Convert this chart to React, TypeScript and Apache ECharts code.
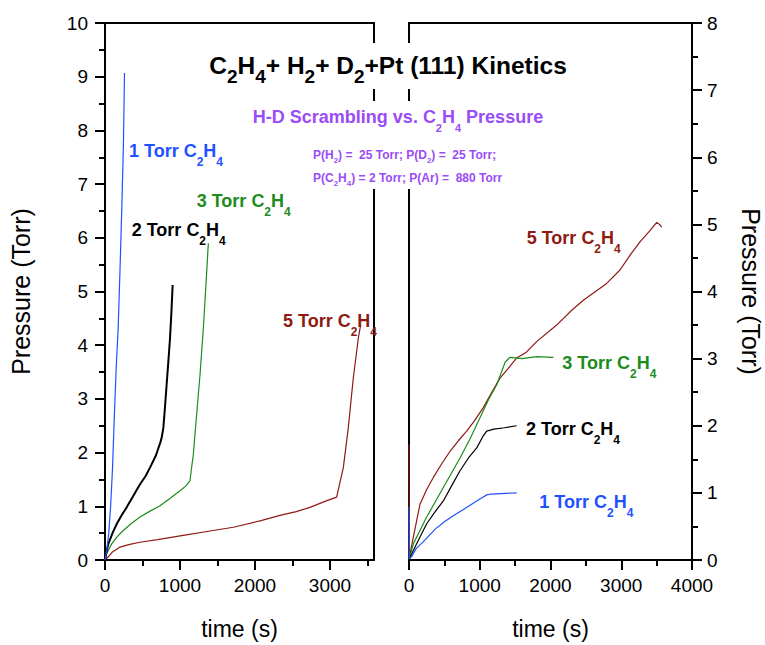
import React, { useEffect, useRef } from 'react';
import * as echarts from 'echarts';

const FONT = "'Liberation Sans', Arial, Helvetica, sans-serif";

// Axis ranges and tick positions
const leftXMax = 3587;
const leftXMajor = [0, 1000, 2000, 3000];
const leftXMinor = [500, 1500, 2500, 3500];
const rightXMax = 4000;
const leftYMax = 10;
const rightYMax = 8;

const BLUE = '#1f52ff';
const BLACK = '#000000';
const GREEN = '#1c8c1c';
const BROWN = '#8e1a12';
const PURPLE = '#9a4cf5';

type Pt = [number, number];

// Left panel: total pressure drop, time (s) vs Pressure (Torr)
const left1Torr: Pt[] = [
  [0, 0], [25, 0.2], [50, 0.5], [75, 1.0], [100, 1.7], [125, 2.7], [150, 3.6],
  [175, 4.3], [200, 5.4], [225, 6.6], [245, 7.7], [260, 9.07],
];
const left2Torr: Pt[] = [
  [0, 0], [20, 0.15], [44, 0.3], [100, 0.5], [156, 0.67], [220, 0.83], [289, 0.98],
  [380, 1.2], [467, 1.41], [540, 1.56], [600, 1.72], [680, 1.95], [740, 2.2],
  [756, 2.28], [778, 2.46], [800, 2.85], [822, 3.27], [845, 3.7], [867, 4.13],
  [885, 4.6], [902, 5.12],
];
const left3Torr: Pt[] = [
  [0, 0], [22, 0.12], [89, 0.3], [160, 0.43], [244, 0.55], [350, 0.68], [467, 0.8],
  [600, 0.91], [733, 1.01], [870, 1.15], [1000, 1.29], [1080, 1.38], [1133, 1.48],
  [1178, 1.97], [1222, 2.71], [1267, 3.45], [1311, 4.31], [1345, 5.1], [1378, 5.9],
];
const left5Torr: Pt[] = [
  [0, 0], [44, 0.06], [100, 0.15], [200, 0.24], [330, 0.29], [467, 0.33], [700, 0.38],
  [1044, 0.46], [1400, 0.54], [1711, 0.61], [2067, 0.73], [2333, 0.83], [2550, 0.9],
  [2733, 0.98], [2950, 1.1], [3089, 1.17], [3178, 1.72], [3244, 2.46], [3311, 3.39],
  [3378, 4.13], [3409, 4.38],
];

// Right panel: H-D exchange product pressure, time (s) vs Pressure (Torr)
const right1Torr: Pt[] = [
  [0, 0.79], [2, 0.02], [38, 0.05], [100, 0.17], [200, 0.27], [370, 0.46], [500, 0.57],
  [626, 0.66], [780, 0.76], [957, 0.88], [1050, 0.94], [1100, 0.97], [1145, 0.98],
  [1300, 0.99], [1522, 1.0],
];
const right2Torr: Pt[] = [
  [0, 0], [61, 0.14], [150, 0.33], [250, 0.54], [370, 0.72], [485, 0.88], [600, 1.1],
  [721, 1.33], [840, 1.52], [957, 1.67], [1050, 1.85], [1098, 1.92], [1200, 1.95],
  [1350, 1.97], [1522, 2.0],
];
const right3Torr: Pt[] = [
  [0, 0], [61, 0.24], [250, 0.64], [485, 1.08], [721, 1.52], [860, 1.8], [1003, 2.12],
  [1120, 2.38], [1240, 2.61], [1300, 2.78], [1360, 2.95], [1428, 3.02], [1600, 3.0],
  [1800, 3.03], [2040, 3.02],
];
const right5Torr: Pt[] = [
  [0, 1.72], [3, 0.03], [61, 0.34], [155, 0.83], [250, 1.05], [344, 1.23], [460, 1.43],
  [580, 1.62], [700, 1.78], [815, 1.92], [930, 2.08], [1050, 2.27], [1170, 2.5],
  [1286, 2.71], [1400, 2.85], [1522, 3.01], [1663, 3.1], [1800, 3.25], [2087, 3.5],
  [2300, 3.72], [2464, 3.87], [2794, 4.12], [2982, 4.32], [3130, 4.55], [3265, 4.74],
  [3400, 4.9], [3501, 5.03], [3540, 5.0], [3572, 4.96],
];

const axisLineStyle = { color: '#000', width: 2 };
const plain = (v: number) => String(v);
const tickLabel = { fontSize: 19, fontFamily: FONT, color: '#000', formatter: plain };
const axisName = { fontSize: 23, fontFamily: FONT, color: '#000' };

function lineSeries(data: Pt[], color: string, xi: number, yi: number, width = 1.2) {
  return {
    type: 'line',
    data,
    xAxisIndex: xi,
    yAxisIndex: yi,
    symbol: 'none',
    showSymbol: false,
    lineStyle: { color, width },
    itemStyle: { color },
    z: 3,
  };
}

function richStyle(color: string, main: number, sub: number, pad: number) {
  return {
    m: { fontSize: main, fontWeight: 'bold', fontFamily: FONT, fill: color },
    s: { fontSize: sub, fontWeight: 'bold', fontFamily: FONT, fill: color, padding: [pad, 0, 0, 0] },
  };
}

// "n Torr C2H4" curve label with subscripts
function torrLabel(n: string, x: number, y: number, color: string) {
  return {
    type: 'text',
    x,
    y,
    z: 100,
    style: {
      text: `{m|${n} Torr C}{s|2}{m|H}{s|4}`,
      align: 'left',
      verticalAlign: 'middle',
      rich: richStyle(color, 18, 12, 22),
    },
  };
}

export default function App() {
  const ref = useRef<HTMLDivElement>(null);

  useEffect(() => {
    if (!ref.current) return;
    const chart = echarts.init(ref.current, undefined, { renderer: 'svg' });

    const option = {
      animation: false,
      backgroundColor: '#fff',
      textStyle: { fontFamily: FONT },
      grid: [
        { left: 105, top: 23, width: 269, height: 540, show: true, borderColor: '#000', borderWidth: 2, backgroundColor: 'transparent' },
        { left: 409, top: 23, width: 283, height: 540, show: true, borderColor: '#000', borderWidth: 2, backgroundColor: 'transparent' },
      ],
      xAxis: [
        {
          type: 'value', gridIndex: 0, position: 'bottom', min: 0, max: leftXMax,
          name: 'time (s)', nameLocation: 'middle', nameGap: 57, nameTextStyle: axisName,
          axisLine: { show: true, onZero: false, lineStyle: axisLineStyle },
          axisTick: { show: true, length: 10, lineStyle: axisLineStyle, customValues: leftXMajor },
          axisLabel: { ...tickLabel, margin: 16, customValues: leftXMajor },
          splitLine: { show: false },
        },
        {
          type: 'value', gridIndex: 0, position: 'bottom', min: 0, max: leftXMax,
          axisLine: { show: false, onZero: false },
          axisTick: { show: true, length: 6, lineStyle: axisLineStyle, customValues: leftXMinor },
          axisLabel: { show: false },
          splitLine: { show: false },
        },
        {
          type: 'value', gridIndex: 1, position: 'bottom', min: 0, max: rightXMax, interval: 1000,
          name: 'time (s)', nameLocation: 'middle', nameGap: 57, nameTextStyle: axisName,
          axisLine: { show: true, onZero: false, lineStyle: axisLineStyle },
          axisTick: { show: true, length: 10, lineStyle: axisLineStyle },
          minorTick: { show: true, splitNumber: 2, length: 6, lineStyle: axisLineStyle },
          axisLabel: { ...tickLabel, margin: 16 },
          splitLine: { show: false },
        },
      ],
      yAxis: [
        {
          type: 'value', gridIndex: 0, position: 'left', min: 0, max: leftYMax, interval: 1,
          name: 'Pressure (Torr)', nameLocation: 'middle', nameGap: 72,
          nameTextStyle: { ...axisName, fontSize: 25 },
          axisLine: { show: true, onZero: false, lineStyle: axisLineStyle },
          axisTick: { show: true, length: 10, lineStyle: axisLineStyle },
          minorTick: { show: true, splitNumber: 2, length: 6, lineStyle: axisLineStyle },
          axisLabel: { ...tickLabel, margin: 17 },
          splitLine: { show: false },
        },
        {
          type: 'value', gridIndex: 1, position: 'right', min: 0, max: rightYMax, interval: 1,
          name: 'Pressure (Torr)', nameLocation: 'middle', nameGap: 46, nameRotate: -90,
          nameTextStyle: { ...axisName, fontSize: 25 },
          axisLine: { show: true, onZero: false, lineStyle: axisLineStyle },
          axisTick: { show: true, length: 10, lineStyle: axisLineStyle },
          minorTick: { show: true, splitNumber: 2, length: 6, lineStyle: axisLineStyle },
          axisLabel: { ...tickLabel, margin: 15 },
          splitLine: { show: false },
        },
      ],
      series: [
        lineSeries(left5Torr, BROWN, 0, 0),
        lineSeries(left3Torr, GREEN, 0, 0),
        lineSeries(left2Torr, BLACK, 0, 0, 2),
        lineSeries(left1Torr, BLUE, 0, 0),
        lineSeries(right5Torr, BROWN, 2, 1),
        lineSeries(right3Torr, GREEN, 2, 1),
        lineSeries(right2Torr, BLACK, 2, 1),
        lineSeries(right1Torr, BLUE, 2, 1),
      ],
      graphic: [
        // white boxes behind the headings interrupt the inner frame lines
        { type: 'rect', z: 90, shape: { x: 366, y: 43, width: 50, height: 46 }, style: { fill: '#fff' } },
        { type: 'rect', z: 90, shape: { x: 366, y: 101, width: 50, height: 88 }, style: { fill: '#fff' } },
        {
          type: 'text', x: 388, y: 65, z: 100,
          style: {
            text: '{m|C}{s|2}{m|H}{s|4}{m|+ H}{s|2}{m|+ D}{s|2}{m|+Pt (111) Kinetics}',
            align: 'center', verticalAlign: 'middle',
            rich: richStyle('#000', 24.5, 19, 22),
          },
        },
        {
          type: 'text', x: 398, y: 117.4, z: 100,
          style: {
            text: '{m|H-D Scrambling vs. C}{s|2}{m|H}{s|4}{m| Pressure}',
            align: 'center', verticalAlign: 'middle',
            rich: richStyle(PURPLE, 18, 11, 22),
          },
        },
        {
          type: 'text', x: 313, y: 155.3, z: 100,
          style: {
            text: '{m|P(H}{s|2}{m|) =  25 Torr; P(D}{s|2}{m|) =  25 Torr;}',
            align: 'left', verticalAlign: 'middle',
            rich: richStyle(PURPLE, 12, 8, 11),
          },
        },
        {
          type: 'text', x: 313, y: 178, z: 100,
          style: {
            text: '{m|P(C}{s|2}{m|H}{s|4}{m|) = 2 Torr; P(Ar) =  880 Torr}',
            align: 'left', verticalAlign: 'middle',
            rich: richStyle(PURPLE, 12, 8, 11),
          },
        },
        torrLabel('1', 129, 151, BLUE),
        torrLabel('2', 131.7, 230.4, BLACK),
        torrLabel('3', 196.7, 201, GREEN),
        torrLabel('5', 283, 321, BROWN),
        torrLabel('5', 526.7, 238.4, BROWN),
        torrLabel('3', 562.3, 363.4, GREEN),
        torrLabel('2', 526, 429.4, BLACK),
        torrLabel('1', 539.3, 502.4, BLUE),
      ],
    };

    chart.setOption(option as any);
    return () => chart.dispose();
  }, []);

  return (
    <div
      ref={ref}
      style={{ position: 'fixed', left: 0, top: 0, width: 765, height: 645, background: '#fff' }}
    />
  );
}
